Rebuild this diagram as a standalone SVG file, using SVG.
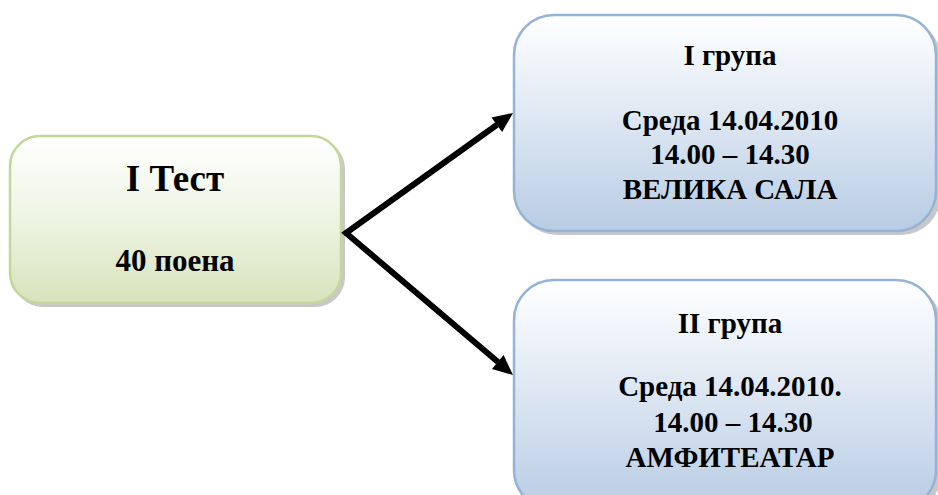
<svg xmlns="http://www.w3.org/2000/svg" width="938" height="495" viewBox="0 0 938 495">
<defs>
<linearGradient id="gGreen" x1="0" y1="0" x2="0" y2="1">
<stop offset="0" stop-color="#ffffff"/>
<stop offset="0.5" stop-color="#eef4e2"/>
<stop offset="1" stop-color="#d6e3bb"/>
</linearGradient>
<linearGradient id="gBlue" x1="0" y1="0" x2="0" y2="1">
<stop offset="0" stop-color="#ffffff"/>
<stop offset="0.5" stop-color="#dce6f2"/>
<stop offset="1" stop-color="#b8cce4"/>
</linearGradient>
</defs>
<style>
.shadow{fill:#9a9a9a;opacity:0.55}
.green{fill:url(#gGreen);stroke:#c3d69b;stroke-width:2.5}
.blue{fill:url(#gBlue);stroke:#95b3d7;stroke-width:2.5}
.t{font-family:"Liberation Serif","Times New Roman",serif;font-weight:bold;fill:#000;text-anchor:middle}
.conn{stroke:#000;stroke-width:6;fill:none;stroke-linejoin:miter}
.head{fill:#000}
</style>
<g id="test">
<rect class="shadow" x="13" y="139" width="332" height="168" rx="30"/>
<rect class="green" x="10" y="136" width="331" height="167" rx="30"/>
<text class="t" x="175" y="191" font-size="37" font-family="Liberation Serif, serif">I Тест</text>
<text class="t" x="175" y="271" font-size="31" font-family="Liberation Serif, serif">40 поена</text>
</g>
<g id="group1">
<rect class="shadow" x="517" y="19" width="424" height="216" rx="40"/>
<rect class="blue" x="514" y="15" width="422" height="216" rx="40"/>
<text class="t" x="730" y="65" font-size="29" font-family="Liberation Serif, serif">I група</text>
<text class="t" x="730" y="130" font-size="29" font-family="Liberation Serif, serif">Среда 14.04.2010</text>
<text class="t" x="730" y="164" font-size="29" font-family="Liberation Serif, serif">14.00 – 14.30</text>
<text class="t" x="730" y="199" font-size="29" font-family="Liberation Serif, serif">ВЕЛИКА САЛА</text>
</g>
<g id="group2">
<rect class="shadow" x="517" y="284" width="424" height="230" rx="40"/>
<rect class="blue" x="514" y="280" width="422" height="230" rx="40"/>
<text class="t" x="730" y="333" font-size="29" font-family="Liberation Serif, serif">II група</text>
<text class="t" x="730" y="396" font-size="29" font-family="Liberation Serif, serif">Среда 14.04.2010.</text>
<text class="t" x="733" y="432" font-size="29" font-family="Liberation Serif, serif">14.00 – 14.30</text>
<text class="t" x="730" y="467" font-size="29" font-family="Liberation Serif, serif">АМФИТЕАТАР</text>
</g>
<g id="connectors">
<polyline class="conn" points="497,124.7 346,233 498,362"/>
<polygon class="head" points="513,113 502.1,132 491.5,117.4"/>
<polygon class="head" points="513,375 492,368.9 503.6,355.1"/>
</g>
</svg>
